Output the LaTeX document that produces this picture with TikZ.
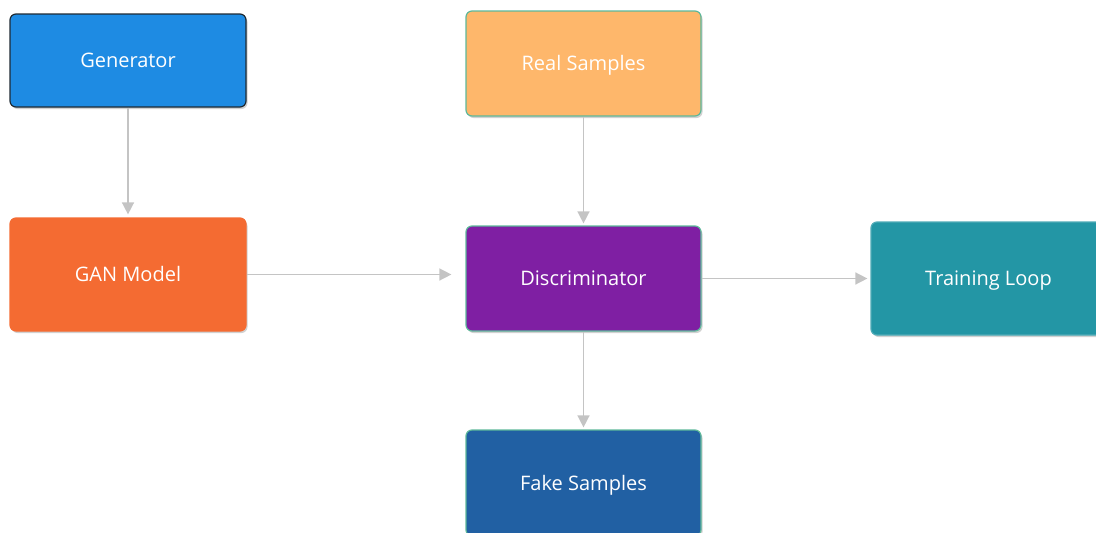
\documentclass[tikz,border=0pt]{standalone}
\usepackage{fontspec}
\setmainfont{Open Sans}
\usetikzlibrary{arrows.meta,shadows}
\definecolor{genblue}{HTML}{1E8BE3}
\definecolor{realorange}{HTML}{FEB76B}
\definecolor{ganorange}{HTML}{F46B32}
\definecolor{discpurple}{HTML}{7F1FA3}
\definecolor{trainteal}{HTML}{2396A5}
\definecolor{fakeblue}{HTML}{2160A3}
\definecolor{tealborder}{HTML}{5DB89A}
\definecolor{darkborder}{HTML}{1E2A33}
\definecolor{arrowgray}{HTML}{C4C4C4}
\tikzset{
  box/.style={rectangle, rounded corners=6pt, minimum width=236pt, inner sep=0pt,
    text=white, font=\fontsize{20}{24}\selectfont, line width=1.2pt,
    text height=15.5pt, text depth=1pt,
    drop shadow={shadow xshift=1.5pt, shadow yshift=-2pt, opacity=0.18, fill=black}},
  conn/.style={draw=arrowgray, line width=1.5pt, -{Triangle[length=12pt,width=12pt]}}
}
\begin{document}
\begin{tikzpicture}[x=1pt,y=1pt]
\useasboundingbox (0,0) rectangle (1096,-533);
\node[box, fill=genblue, draw=darkborder, minimum height=93pt] (gen) at (128,-60.5) {Generator};
\node[box, fill=realorange, draw=tealborder, minimum height=105pt, minimum width=235pt] (real) at (583.5,-63.5) {Real Samples};
\node[box, fill=ganorange, draw=ganorange, minimum height=113pt] (gan) at (128,-274.5) {GAN Model};
\node[box, fill=discpurple, draw=tealborder, minimum height=105pt, minimum width=235pt] (disc) at (583.5,-278.5) {Discriminator};
\node[box, fill=trainteal, draw=trainteal!80!white, minimum height=113pt, minimum width=235pt] (train) at (988.5,-278.5) {Training Loop};
\node[box, fill=fakeblue, draw=tealborder, minimum height=106pt, minimum width=235pt] (fake) at (583.5,-483) {Fake Samples};
\draw[conn, shorten >=3pt] (gen) -- (gan);
\draw[conn, shorten >=2pt] (real) -- (disc);
\draw[conn, shorten >=14pt] (gan.east) -- (gan.east -| disc.west);
\draw[conn, shorten >=3pt] (disc) -- (train);
\draw[conn, shorten >=2pt] (disc) -- (fake);
\end{tikzpicture}
\end{document}
